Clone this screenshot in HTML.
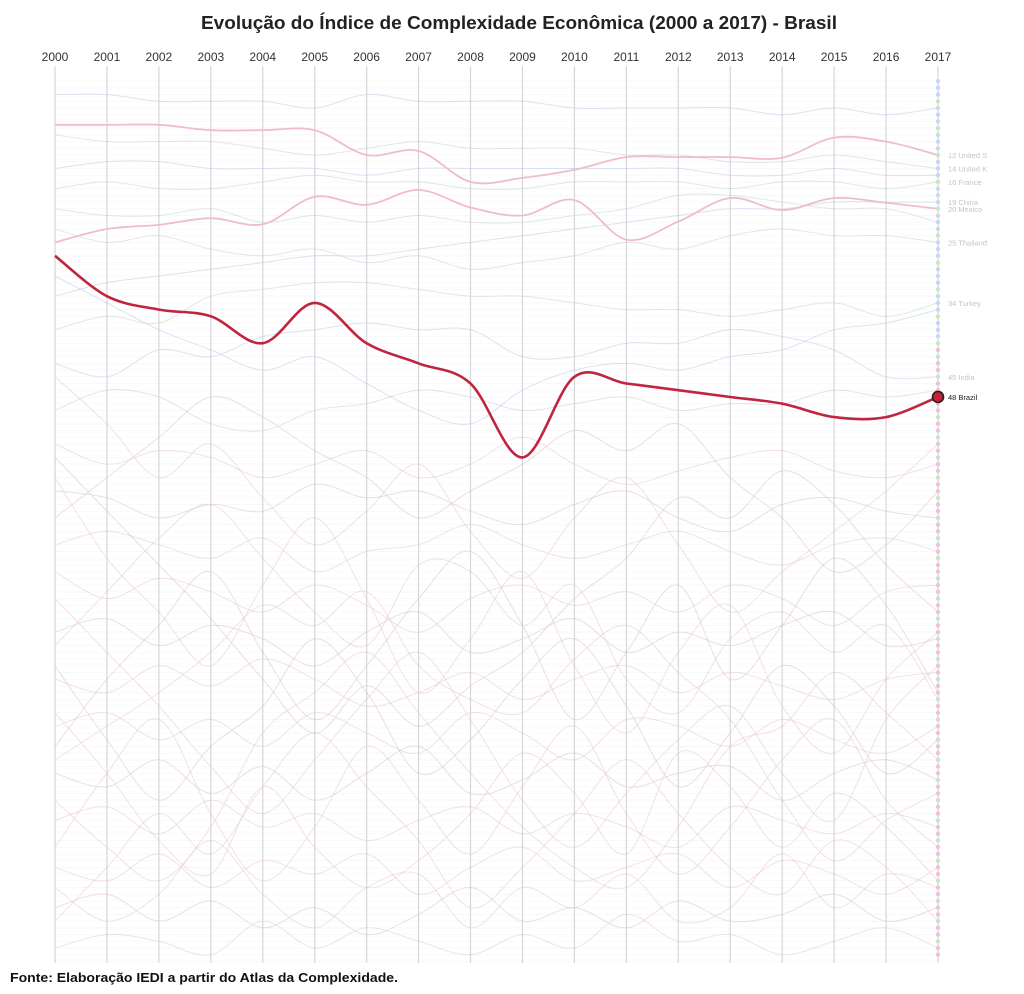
<!DOCTYPE html>
<html><head><meta charset="utf-8">
<style>
html,body{margin:0;padding:0;background:#fff;}
svg{display:block;}
</style></head>
<body>
<svg id="chart" width="1024" height="994" xmlns="http://www.w3.org/2000/svg">
<text x="519" y="29" text-anchor="middle" font-family="Liberation Sans, sans-serif" font-weight="bold" font-size="18" fill="#222" textLength="636" lengthAdjust="spacingAndGlyphs">Evolução do Índice de Complexidade Econômica (2000 a 2017) - Brasil</text>
<g id="grid"></g>
<g id="bg"></g>
<g id="hl"></g>
<g id="endcol"></g>
<g id="xaxis"></g>
<text x="10" y="982" font-family="Liberation Sans, sans-serif" font-weight="bold" font-size="13" fill="#111" textLength="388" lengthAdjust="spacingAndGlyphs">Fonte: Elaboração IEDI a partir do Atlas da Complexidade.</text>
</svg>
<script>
const years = [2000,2001,2002,2003,2004,2005,2006,2007,2008,2009,2010,2011,2012,2013,2014,2015,2016,2017];
const brazilRanks = [27,33,35,36,40,34,40,43,46,57,45,46,47,48,49,51,51,48];
const usRanks = [7.5,7.5,7.5,8.3,8.3,8.3,12,11.4,16,15.4,14.2,12.3,12.3,12.3,12.4,9.4,10,12];
const mexicoRanks = [25,23,22.4,21.4,22.3,18.2,19.4,17.2,19.8,21,18.7,24.6,21.9,18.4,20.2,18.4,19.1,20];
const labelRanks = [12,14,16,19,20,25,34,45,48];
const labelNames = ["United S","United K","France","China","Mexico","Thailand","Turkey","India","Brazil"];
const bgSeries = [
[3,3,4,4,4,5,3,4,4,4,5,5,5,5,6,5,6,5],
[9,10,10,10,11,12,11,10,11,11,11,12,12,13,13,12,13,14],
[17,16,17,17,16,15,16,16,17,17,16,16,16,17,16,16,17,16],
[33,31,30,29,28,27,27,26,25,24,23,22,21,20,20,19,19,19],
[23,25,24,26,27,26,28,27,29,28,27,25,26,24,23,24,24,25],
[38,36,37,33,32,31,31,32,33,33,34,35,35,36,35,34,36,34],
[43,45,41,42,39,38,37,38,38,42,42,40,40,38,39,41,45,45],
[50,47,48,52,53,50,49,47,48,50,49,48,50,49,49,47,48,47],
[55,58,56,57,60,58,56,60,58,54,58,61,59,57,56,59,60,58],
[62,63,66,64,65,61,63,62,65,67,64,62,66,68,64,63,65,66],
[70,68,70,72,69,74,71,70,67,70,72,70,68,71,73,70,69,71],
[74,78,75,77,80,76,79,83,78,76,79,77,80,76,78,82,77,76],
[83,81,85,82,84,88,83,80,86,84,81,86,83,85,82,80,85,84],
[90,92,88,91,87,90,94,92,89,93,90,88,92,89,91,93,90,89],
[97,95,99,96,100,95,98,101,95,98,102,96,97,100,96,99,101,97],
[104,106,102,107,103,108,104,100,107,105,101,106,104,103,108,104,102,105],
[111,109,113,108,112,110,114,111,109,113,110,112,115,109,111,113,110,112],
[118,120,116,121,117,119,116,122,118,115,120,118,116,121,117,119,122,118],
[124,122,126,123,127,124,128,125,121,126,124,127,123,126,125,122,126,124],
[130,128,129,131,126,130,127,129,131,128,130,125,129,128,131,129,127,130],
[60,72,80,88,76,66,78,92,84,74,88,98,86,79,94,101,90,83],
[100,90,82,74,86,96,88,78,71,82,96,86,76,90,82,72,79,92],
[45,52,60,55,63,70,65,58,68,75,66,60,70,80,74,68,62,55],
[115,104,96,110,120,112,100,108,116,106,97,110,119,112,102,96,108,115],
[88,99,108,100,94,84,92,104,99,90,84,94,106,98,88,94,104,99],
[78,86,94,103,110,102,93,86,96,108,115,107,99,94,104,111,96,88],
[126,118,110,116,106,98,106,114,124,118,110,102,110,118,122,114,118,126],
[66,60,54,48,51,56,60,66,62,58,53,56,52,60,66,74,70,62],
[95,104,114,119,106,115,121,117,110,101,107,116,101,106,115,107,112,120],
[108,115,120,112,98,92,86,95,104,112,118,121,112,100,97,89,95,102],
[30,34,38,41,44,42,46,50,52,47,44,43,44,42,41,38,37,35],
[20,21,21,20,22,21,22,21,22,22,21,20,18,18,19,20,20,22],
[121,126,122,114,122,127,121,119,127,121,124,119,126,124,116,124,119,121],
[57,65,73,81,90,98,91,97,91,86,78,72,63,66,59,64,73,80],
[85,77,69,64,72,80,85,73,74,82,76,90,95,84,80,86,82,93],
[102,97,92,86,79,82,77,88,93,95,87,82,89,96,108,117,111,107],
[14,13,13,14,14,14,15,14,14,14,14,14,14,15,15,14,15,15]
];
const bgColors = ["#b8c8e6","#c6cdd8","#b7dcb7","#f1c3cf"];

const svgNS = "http://www.w3.org/2000/svg";
const x0 = 55, x1 = 938, yBot = 963;
function xScale(i){ return x0 + i*(x1-x0)/(years.length-1); }
function yScale(r){ return 74.4 + 6.72*r; }

function pathFor(ranks){
  const pts = ranks.map((r,i)=>[xScale(i), yScale(r)]);
  let d = "M"+pts[0][0].toFixed(1)+","+pts[0][1].toFixed(1);
  for(let i=0;i<pts.length-1;i++){
    const p0 = pts[Math.max(i-1,0)], p1 = pts[i], p2 = pts[i+1], p3 = pts[Math.min(i+2,pts.length-1)];
    const c1x = p1[0] + (p2[0]-p0[0])/6, c1y = p1[1] + (p2[1]-p0[1])/6;
    const c2x = p2[0] - (p3[0]-p1[0])/6, c2y = p2[1] - (p3[1]-p1[1])/6;
    d += " C"+c1x.toFixed(1)+","+c1y.toFixed(1)+" "+c2x.toFixed(1)+","+c2y.toFixed(1)+" "+p2[0].toFixed(1)+","+p2[1].toFixed(1);
  }
  return d;
}

const grid = document.getElementById('grid');
for(let r=1;r<=132;r+=1){
  const l = document.createElementNS(svgNS,'line');
  
  
  l.setAttribute('x1',x0); l.setAttribute('x2',x1);
  l.setAttribute('y1',yScale(r)); l.setAttribute('y2',yScale(r));
  l.setAttribute('stroke', '#f5f6f8'); l.setAttribute('stroke-width','0.7');
  grid.appendChild(l);
}
years.forEach((y,i)=>{
  const l = document.createElementNS(svgNS,'line');
  
  
  l.setAttribute('x1',xScale(i)); l.setAttribute('x2',xScale(i));
  l.setAttribute('y1',66); l.setAttribute('y2',yBot);
  l.setAttribute('stroke','#d6d6da'); l.setAttribute('stroke-width','1.2');
  grid.appendChild(l);
});

const bg = document.getElementById('bg');
bgSeries.forEach((s,k)=>{
  const p = document.createElementNS(svgNS,'path');
  
  
  p.setAttribute('d',pathFor(s));
  p.setAttribute('fill','none');
  const c = s[17] > 52 ? (k%3===0 ? "#d8c0c8" : "#e8c4cc") : bgColors[k%3];
  p.setAttribute('stroke',c);
  p.setAttribute('stroke-width','1');
  p.setAttribute('opacity','0.5');
  bg.appendChild(p);
});

const hl = document.getElementById('hl');
[usRanks, mexicoRanks].forEach((s)=>{
  const p = document.createElementNS(svgNS,'path');
  
  
  p.setAttribute('d',pathFor(s));
  p.setAttribute('fill','none');
  p.setAttribute('stroke','#f0bcc8');
  p.setAttribute('stroke-width','1.8');
  hl.appendChild(p);
});
const bp = document.createElementNS(svgNS,'path');


bp.setAttribute('d',pathFor(brazilRanks));
bp.setAttribute('fill','none');
bp.setAttribute('stroke','#c0253e');
bp.setAttribute('stroke-width','2.6');
hl.appendChild(bp);

const endcol = document.getElementById('endcol');
for(let r=1;r<=131;r++){
  const c = document.createElementNS(svgNS,'circle');
  
  
  c.setAttribute('cx',x1); c.setAttribute('cy',yScale(r));
  c.setAttribute('r',2.2);
  c.setAttribute('fill', r<=40 ? (r%4===0?'#c9e6c0':'#c8d8f4') : (r%3===0?'#c9e6c0':'#f0c2d4'));
  endcol.appendChild(c);
}
labelRanks.forEach((r,i)=>{
  const t = document.createElementNS(svgNS,'text');
  
  
  t.setAttribute('x',948); t.setAttribute('y',yScale(r)+3);
  t.setAttribute('font-family','Liberation Sans, sans-serif');
  t.setAttribute('font-size','7.5');
  t.setAttribute('fill', labelNames[i]==='Brazil' ? '#222' : '#c4c4c4');
  t.textContent = r+'  '+labelNames[i];
  endcol.appendChild(t);
});
const last = brazilRanks.length-1;
const bdot = document.createElementNS(svgNS,'circle');


bdot.setAttribute('cx',xScale(last)); bdot.setAttribute('cy',yScale(brazilRanks[last]));
bdot.setAttribute('r',5.5); bdot.setAttribute('fill','#c8203a'); bdot.setAttribute('stroke','#222'); bdot.setAttribute('stroke-width','1.6');
endcol.appendChild(bdot);

const xaxis = document.getElementById('xaxis');
years.forEach((y,i)=>{
  const t = document.createElementNS(svgNS,'text');
  
  
  t.setAttribute('x',xScale(i)); t.setAttribute('y',61);
  t.setAttribute('text-anchor','middle');
  t.setAttribute('font-family','Liberation Sans, sans-serif');
  t.setAttribute('font-size','12');
  t.setAttribute('fill','#333');
  t.textContent = y;
  xaxis.appendChild(t);
});
</script>
</body></html>
